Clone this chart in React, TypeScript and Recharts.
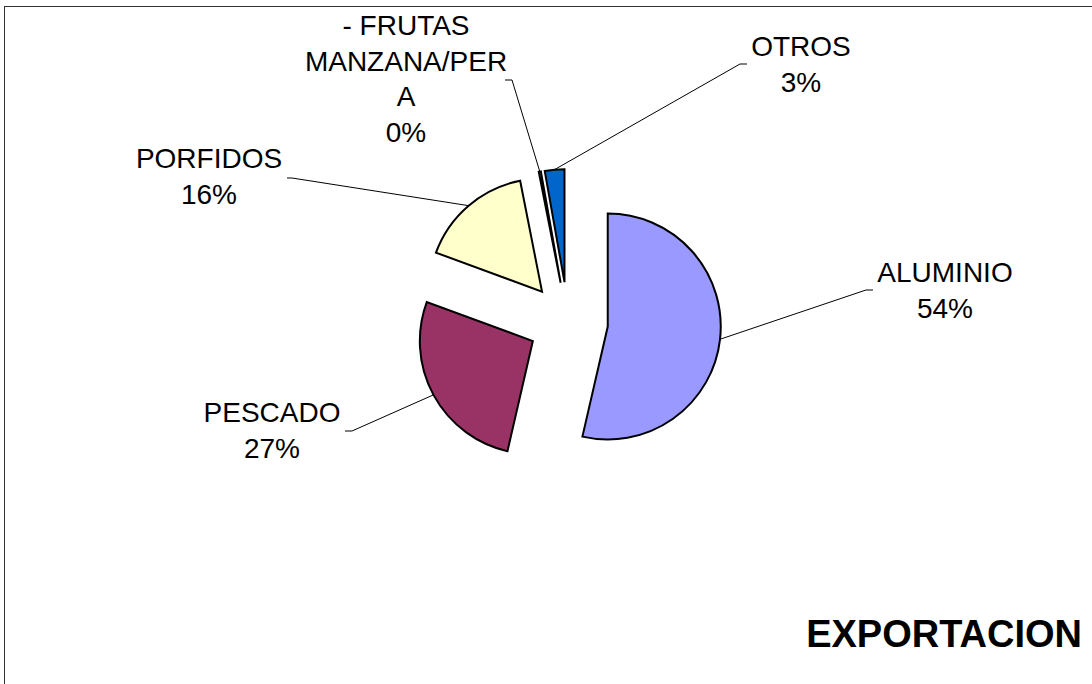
import { PieChart, Pie, Cell, Sector } from "recharts";

// export share by product (percent)
const products = ["ALUMINIO", "PESCADO", "PORFIDOS", "- FRUTAS MANZANA/PERA", "OTROS"];
const shares = [53.6, 27.0, 16.3, 0.3, 2.8];
const colors = ["#9999FF", "#993366", "#FFFFCC", "#CCFFFF", "#0066CC"];

// label placement, relative to the pie centre (Excel-style dragged labels)
const labelLayout = [
  { x: 377, y: -40, elbowX: 298, elbowY: -32, tick: 7 },
  { x: -296, y: 100, elbowX: -216, elbowY: 109, tick: -7 },
  { x: -359, y: -154, elbowX: -276, elbowY: -144, tick: -5 },
  { x: -162, y: -287, elbowX: -56, elbowY: -242, tick: -7 },
  { x: 233, y: -266, elbowX: 172, elbowY: -258, tick: 7 },
];

const W = 1092;
const H = 684;
const CX = 568;
const CY = 322;
const RADIUS = 113;
const EXPLODE = 40;
const LINE_H = 35.5;
const FONT = "'Liberation Sans', Arial, sans-serif";
const RAD = Math.PI / 180;

const rows = products.map((name, i) => ({ name, value: shares[i] }));

function wrap(text: string, maxChars = 11): string[] {
  const out: string[] = [];
  let cur = "";
  for (const word of text.split(" ")) {
    const next = cur ? cur + " " + word : word;
    if (next.length <= maxChars) {
      cur = next;
      continue;
    }
    if (cur) out.push(cur);
    let w = word;
    while (w.length > maxChars) {
      out.push(w.slice(0, maxChars));
      w = w.slice(maxChars);
    }
    cur = w;
  }
  if (cur) out.push(cur);
  return out;
}

const explodedSector = (props: any) => {
  const a = -props.midAngle * RAD;
  return (
    <Sector
      {...props}
      cx={props.cx + EXPLODE * Math.cos(a)}
      cy={props.cy + EXPLODE * Math.sin(a)}
    />
  );
};

const renderLabel = (props: any) => {
  const { cx, cy, midAngle, outerRadius, index, percent, name } = props;
  const lay = labelLayout[index];
  if (!lay) return null;
  const a = -midAngle * RAD;
  const sx = cx + (EXPLODE + outerRadius) * Math.cos(a);
  const sy = cy + (EXPLODE + outerRadius) * Math.sin(a);
  const ex = cx + lay.elbowX;
  const ey = cy + lay.elbowY;
  const lines = [...wrap(String(name)), `${Math.round(percent * 100)}%`];
  return (
    <g>
      <polyline
        points={`${sx},${sy} ${ex},${ey} ${ex + lay.tick},${ey}`}
        fill="none"
        stroke="#000"
        strokeWidth={1}
      />
      <text
        x={cx + lay.x}
        y={cy + lay.y}
        textAnchor="middle"
        fontFamily={FONT}
        fontSize={28}
        fill="#000"
      >
        {lines.map((l, i) => (
          <tspan key={i} x={cx + lay.x} y={cy + lay.y + i * LINE_H}>
            {l}
          </tspan>
        ))}
      </text>
    </g>
  );
};

export default function App() {
  return (
    <div
      style={{
        position: "absolute",
        left: 0,
        top: 0,
        width: W,
        height: H,
        overflow: "hidden",
        background: "#fff",
      }}
    >
      <div
        style={{
          position: "absolute",
          left: 4,
          top: 6,
          width: W + 100,
          height: H + 100,
          borderTop: "1.5px solid #333",
          borderLeft: "1.5px solid #333",
        }}
      />
      <PieChart
        width={W}
        height={H}
        margin={{ top: 0, right: 0, bottom: 0, left: 0 }}
        style={{ position: "absolute", left: 0, top: 0 }}
      >
        <Pie
          data={rows}
          dataKey="value"
          nameKey="name"
          cx={CX}
          cy={CY}
          outerRadius={RADIUS}
          startAngle={90}
          endAngle={-270}
          stroke="#000"
          strokeWidth={2}
          label={renderLabel}
          labelLine={false}
          shape={explodedSector}
          activeShape={explodedSector}
          inactiveShape={explodedSector}
          isAnimationActive={false}
        >
          {rows.map((r, i) => (
            <Cell key={r.name} fill={colors[i]} />
          ))}
        </Pie>
      </PieChart>
      <svg
        width={W}
        height={H}
        style={{ position: "absolute", left: 0, top: 0, pointerEvents: "none" }}
      >
        <text
          x={1082}
          y={647}
          textAnchor="end"
          fontFamily={FONT}
          fontSize={38}
          fontWeight="bold"
          fill="#000"
        >
          EXPORTACION
        </text>
      </svg>
    </div>
  );
}
